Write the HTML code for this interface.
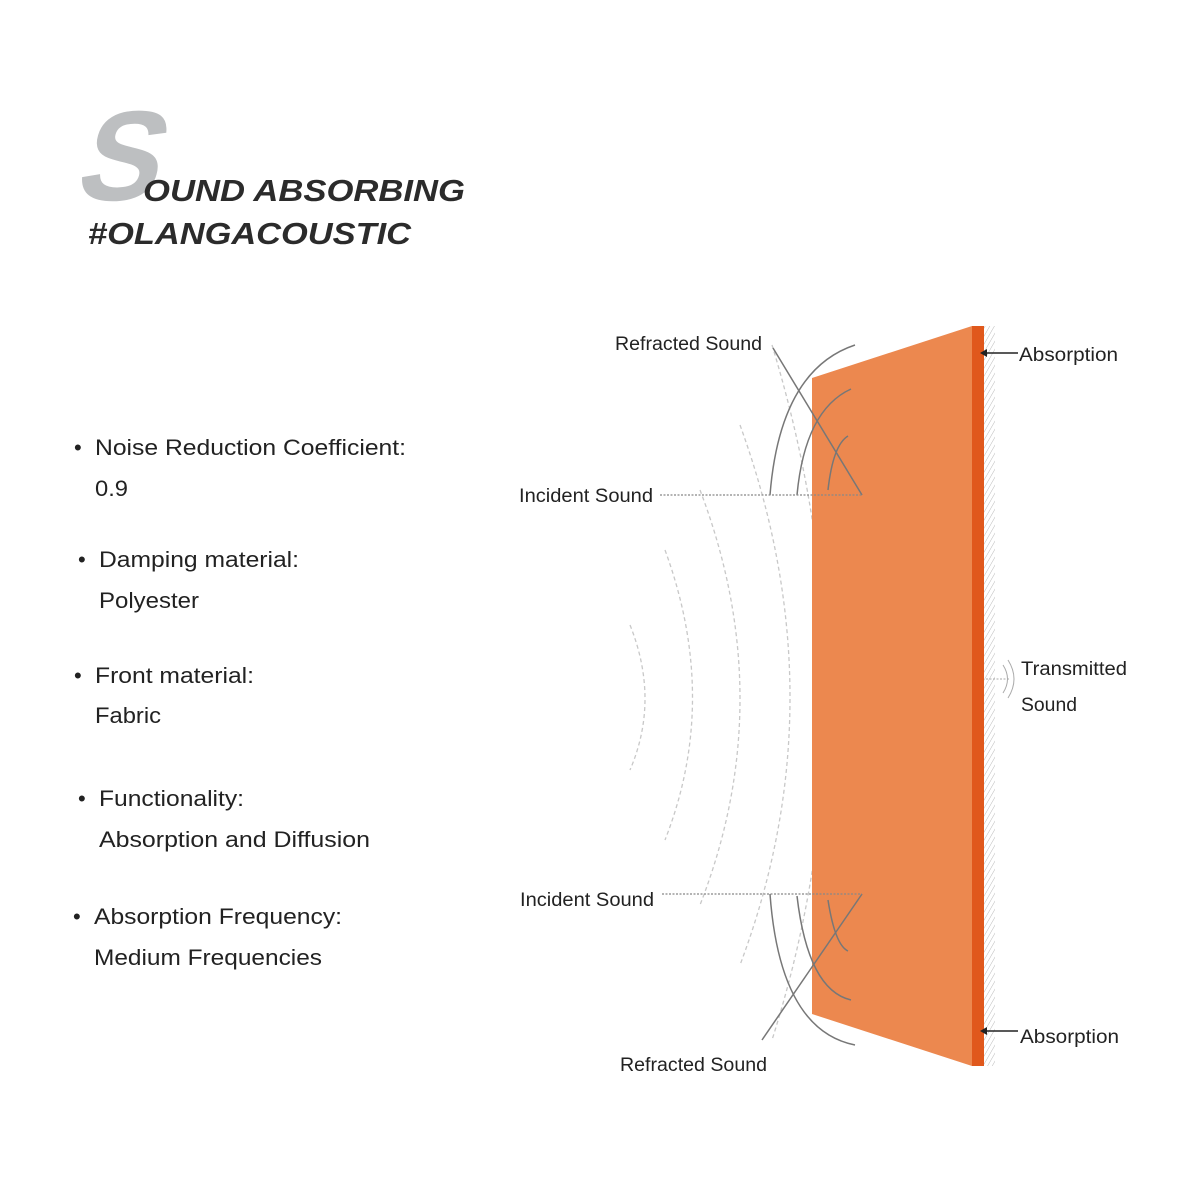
<!DOCTYPE html>
<html><head><meta charset="utf-8"><style>
html,body{margin:0;padding:0;background:#fff;width:1200px;height:1200px;overflow:hidden}
svg{display:block}
text{font-family:"Liberation Sans","DejaVu Sans",sans-serif}
</style></head><body>
<svg width="1200" height="1200" viewBox="0 0 1200 1200" xmlns="http://www.w3.org/2000/svg">
<defs>
<pattern id="h" width="4" height="4" patternUnits="userSpaceOnUse" patternTransform="rotate(30)">
<line x1="0" y1="0" x2="0" y2="4" stroke="#bbb" stroke-width="1"/>
</pattern>
</defs>
<rect width="1200" height="1200" fill="#fff"/>
<!-- title -->
<text x="0" y="0" font-size="128" font-weight="bold" fill="#bdbfc1" transform="translate(72,200) skewX(-16)" textLength="82" lengthAdjust="spacingAndGlyphs">S</text>
<text x="143" y="201" font-size="31" font-style="italic" font-weight="bold" fill="#2b2b2b" textLength="322" lengthAdjust="spacingAndGlyphs">OUND ABSORBING</text>
<text x="88" y="244" font-size="31" font-style="italic" font-weight="bold" fill="#2b2b2b" textLength="323" lengthAdjust="spacingAndGlyphs">#OLANGACOUSTIC</text>
<!-- list -->
<g font-size="22" fill="#222">
<text x="74" y="455">•</text><text x="95" y="455" textLength="311" lengthAdjust="spacingAndGlyphs">Noise Reduction Coefficient:</text>
<text x="95" y="496" textLength="33" lengthAdjust="spacingAndGlyphs">0.9</text>
<text x="78" y="567">•</text><text x="99" y="567" textLength="200" lengthAdjust="spacingAndGlyphs">Damping material:</text>
<text x="99" y="608" textLength="100" lengthAdjust="spacingAndGlyphs">Polyester</text>
<text x="74" y="683">•</text><text x="95" y="683" textLength="159" lengthAdjust="spacingAndGlyphs">Front material:</text>
<text x="95" y="723" textLength="66" lengthAdjust="spacingAndGlyphs">Fabric</text>
<text x="78" y="806">•</text><text x="99" y="806" textLength="145" lengthAdjust="spacingAndGlyphs">Functionality:</text>
<text x="99" y="847" textLength="271" lengthAdjust="spacingAndGlyphs">Absorption and Diffusion</text>
<text x="73" y="924">•</text><text x="94" y="924" textLength="248" lengthAdjust="spacingAndGlyphs">Absorption Frequency:</text>
<text x="94" y="965" textLength="228" lengthAdjust="spacingAndGlyphs">Medium Frequencies</text>
</g>
<!-- dashed background waves -->
<g fill="none" stroke="#c8c8c8" stroke-width="1.3" stroke-dasharray="4,3">
<path d="M630 625 Q660 700 630 770"/>
<path d="M665 550 Q720 700 665 840"/>
<path d="M700 490 Q780 700 700 905"/>
<path d="M740 425 Q840 700 740 965"/>
<path d="M772 345 Q880 700 772 1040"/>
</g>
<!-- panel -->
<polygon points="812,378 972,326 972,1066 812,1014" fill="#ec884f"/>
<polygon points="972,326 984,326 984,1066 972,1066" fill="#e0581c"/>
<rect x="984" y="326" width="11" height="740" fill="url(#h)"/>
<!-- arcs -->
<g fill="none" stroke="#777" stroke-width="1.5">
<path d="M770 495 Q780 370 855 345"/>
<path d="M797 495 Q805 410 851 389"/>
<path d="M828 490 Q833 445 848 436"/>
<path d="M773 348 L862 495"/>
<path d="M770 894 Q780 1030 855 1045"/>
<path d="M797 896 Q808 990 851 1000"/>
<path d="M828 900 Q835 945 848 951"/>
<path d="M762 1040 L862 894"/>
</g>
<g stroke="#888" stroke-width="1.3" stroke-dasharray="2,1.5" fill="none">
<line x1="660" y1="495" x2="862" y2="495"/>
<line x1="662" y1="894" x2="862" y2="894"/>
</g>
<!-- absorption arrows -->
<g stroke="#222" stroke-width="1.5">
<line x1="982" y1="353" x2="1018" y2="353"/>
<line x1="982" y1="1031" x2="1018" y2="1031"/>
</g>
<polygon points="980,353 987,349 987,357" fill="#222"/>
<polygon points="980,1031 987,1027 987,1035" fill="#222"/>
<!-- transmitted -->
<g fill="none" stroke="#aaa" stroke-width="1">
<line x1="986" y1="679" x2="1010" y2="679" stroke-dasharray="2,1.5"/>
<path d="M1003 665 Q1012 679 1003 693"/>
<path d="M1008 660 Q1020 679 1008 698"/>
</g>
<g font-size="19" fill="#222">
<text x="615" y="350" textLength="147" lengthAdjust="spacingAndGlyphs">Refracted Sound</text>
<text x="1019" y="361" textLength="99" lengthAdjust="spacingAndGlyphs">Absorption</text>
<text x="519" y="502" textLength="134" lengthAdjust="spacingAndGlyphs">Incident Sound</text>
<text x="1021" y="675" textLength="106" lengthAdjust="spacingAndGlyphs">Transmitted</text>
<text x="1021" y="711" textLength="56" lengthAdjust="spacingAndGlyphs">Sound</text>
<text x="520" y="906" textLength="134" lengthAdjust="spacingAndGlyphs">Incident Sound</text>
<text x="1020" y="1043" textLength="99" lengthAdjust="spacingAndGlyphs">Absorption</text>
<text x="620" y="1071" textLength="147" lengthAdjust="spacingAndGlyphs">Refracted Sound</text>
</g>
</svg>
</body></html>
